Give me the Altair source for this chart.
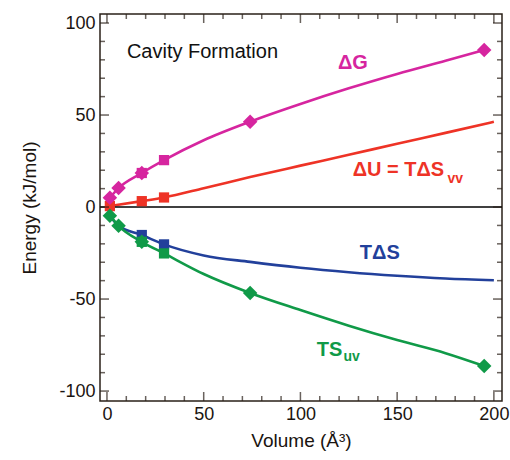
import altair as alt
import pandas as pd

# ---- data ----
series_names = ["dG", "dU", "TdS", "TSuv"]
series_colors = ["#d6259f", "#ee3326", "#22409b", "#109a48"]

# smooth curves (sampled along the drawn lines)
vol_dG = [1.5, 6, 18, 29.5, 50, 74, 100, 125, 150, 175, 195]
curve_dG = [5.1, 10.3, 18.5, 25.5, 36.3, 46.4, 56.0, 64.5, 72.3, 79.5, 85.3]
vol_dU = [1.5, 18, 29.5, 50, 74, 100, 125, 150, 175, 200]
curve_dU = [0.5, 3.2, 5.2, 10.2, 16.3, 22.5, 28.4, 34.4, 40.3, 46.3]
vol_TdS = [1.5, 6, 18, 29.5, 50, 74, 100, 125, 150, 175, 200]
curve_TdS = [-4.7, -10.2, -15.2, -20.3, -26.3, -29.8, -33.0, -35.4, -37.3, -38.8, -39.8]
vol_TSuv = [1.5, 6, 18, 29.5, 50, 74, 100, 125, 150, 175, 195]
curve_TSuv = [-4.7, -10.2, -18.9, -25.2, -36.4, -46.7, -56.0, -64.5, -72.3, -79.4, -86.4]

# diamond markers
diamond_vol = [1.5, 6, 18, 74, 195]
diamond_dG = [5.1, 10.3, 18.5, 46.4, 85.3]
diamond_TSuv = [-4.7, -10.2, -18.9, -46.7, -86.4]

# square markers
square_vol = [18, 29.5]
square_dG = [18.5, 25.5]
square_TdS = [-15.2, -20.3]
square_TSuv = [-18.9, -25.2]
square_dU_vol = [1.5, 18, 29.5]
square_dU = [0.5, 3.2, 5.2]

# tick values
x_major = [0, 50, 100, 150, 200]
x_minor = [10, 20, 30, 40, 60, 70, 80, 90, 110, 120, 130, 140, 160, 170, 180, 190]
y_major = [-100, -50, 0, 50, 100]
y_minor = [-90, -80, -70, -60, -40, -30, -20, -10, 10, 20, 30, 40, 60, 70, 80, 90]

# annotation anchors (data units)
label_text = ["ΔG", "ΔU = TΔS", "TΔS", "TS"]
label_series = ["dG", "dU", "TdS", "TSuv"]
label_vol = [119.4, 127.0, 130.7, 108.5]
label_e = [78.5, 20.0, -25.0, -77.5]
sub_text = ["vv", "uv"]
sub_series = ["dU", "TSuv"]
sub_vol = [176.0, 122.3]
sub_e = [15.3, -81.7]

W, H = 402, 387
axis_color = "#2a2018"
font = "Liberation Sans"

xscale = alt.Scale(domain=[-3.6, 204.2], nice=False, zero=False)
yscale = alt.Scale(domain=[-105.4, 104.9], nice=False, zero=False)
cscale = alt.Scale(domain=series_names, range=series_colors)

# ---- tables ----
curves = pd.concat([
    pd.DataFrame({"series": "dG", "V": vol_dG, "E": curve_dG}),
    pd.DataFrame({"series": "dU", "V": vol_dU, "E": curve_dU}),
    pd.DataFrame({"series": "TdS", "V": vol_TdS, "E": curve_TdS}),
    pd.DataFrame({"series": "TSuv", "V": vol_TSuv, "E": curve_TSuv}),
])
squares = pd.concat([
    pd.DataFrame({"series": "dU", "V": square_dU_vol, "E": square_dU}),
    pd.DataFrame({"series": "dG", "V": square_vol, "E": square_dG}),
    pd.DataFrame({"series": "TdS", "V": square_vol, "E": square_TdS}),
    pd.DataFrame({"series": "TSuv", "V": square_vol, "E": square_TSuv}),
])
diamonds = pd.concat([
    pd.DataFrame({"series": "dG", "V": diamond_vol, "E": diamond_dG}),
    pd.DataFrame({"series": "TSuv", "V": diamond_vol, "E": diamond_TSuv}),
])
labels = pd.DataFrame({"text": label_text, "series": label_series, "V": label_vol, "E": label_e})
subs = pd.DataFrame({"text": sub_text, "series": sub_series, "V": sub_vol, "E": sub_e})
xticks_df = pd.DataFrame({"V": x_major + x_minor, "major": [True] * len(x_major) + [False] * len(x_minor)})
yticks_df = pd.DataFrame({"E": y_major + y_minor, "major": [True] * len(y_major) + [False] * len(y_minor)})

X = alt.X("V:Q", scale=xscale, title="Volume (Å³)",
          axis=alt.Axis(values=x_major, ticks=False, domain=False, grid=False,
                        labelExpr="'' + datum.value",
                        labelPadding=4, titlePadding=8))
Y = alt.Y("E:Q", scale=yscale, title="Energy (kJ/mol)",
          axis=alt.Axis(values=y_major, ticks=False, domain=False, grid=False,
                        labelExpr="'' + datum.value",
                        labelPadding=5, titlePadding=19))
Xn = alt.X("V:Q", scale=xscale)
Yn = alt.Y("E:Q", scale=yscale)
C = alt.Color("series:N", scale=cscale, legend=None)

lines = alt.Chart(curves).mark_line(strokeWidth=2.6, interpolate="monotone").encode(
    x=X, y=Y, color=C, detail="series:N")

zero = alt.Chart(pd.DataFrame({"E": [0]})).mark_rule(color="#000000", strokeWidth=1.5).encode(y=Yn)

sq = alt.Chart(squares).mark_point(shape="square", filled=True, size=105, opacity=1).encode(
    x=Xn, y=Yn, color=C)

dm = alt.Chart(diamonds).mark_point(shape="diamond", filled=True, size=210, opacity=1).encode(
    x=Xn, y=Yn, color=C)

txt = alt.Chart(labels).mark_text(font=font, fontSize=20, fontWeight="bold", align="left",
                                  baseline="middle").encode(x=Xn, y=Yn, text="text:N", color=C)

subtxt = alt.Chart(subs).mark_text(font=font, fontSize=14, fontWeight="bold", align="left",
                                   baseline="middle").encode(x=Xn, y=Yn, text="text:N", color=C)

title_df = pd.DataFrame({"text": ["Cavity Formation"], "V": [10.3], "E": [84.2]})
title_txt = alt.Chart(title_df).mark_text(font=font, fontSize=20, align="left", baseline="middle",
                                          color="#111111").encode(x=Xn, y=Yn, text="text:N")

# inward ticks: tick marks centred on the frame, clipped to the plot area
tsize = alt.condition("datum.major", alt.value(18), alt.value(10))
bt = alt.Chart(xticks_df).mark_tick(color=axis_color, thickness=1.5, orient="vertical", clip=True).encode(
    x=Xn, y=alt.value(H), size=tsize)
tt = alt.Chart(xticks_df).mark_tick(color=axis_color, thickness=1.5, orient="vertical", clip=True).encode(
    x=Xn, y=alt.value(0), size=tsize)
lt = alt.Chart(yticks_df).mark_tick(color=axis_color, thickness=1.5, orient="horizontal", clip=True).encode(
    y=Yn, x=alt.value(0), size=tsize)
rt = alt.Chart(yticks_df).mark_tick(color=axis_color, thickness=1.5, orient="horizontal", clip=True).encode(
    y=Yn, x=alt.value(W), size=tsize)

chart = alt.layer(lines, zero, sq, dm, txt, subtxt, title_txt, bt, tt, lt, rt).properties(
    width=W, height=H,
    padding={"left": 100, "top": 14, "right": 8, "bottom": 59},
    autosize=alt.AutoSizeParams(type="none"),
).configure_view(
    stroke=axis_color, strokeWidth=1.5
).configure_axis(
    labelFont=font, titleFont=font, labelFontSize=18, titleFontSize=19,
    labelColor="#1a1410", titleColor="#1a1410", titleFontWeight="normal"
)

chart.save("out.html", embed_options={"renderer": "svg", "actions": False})
